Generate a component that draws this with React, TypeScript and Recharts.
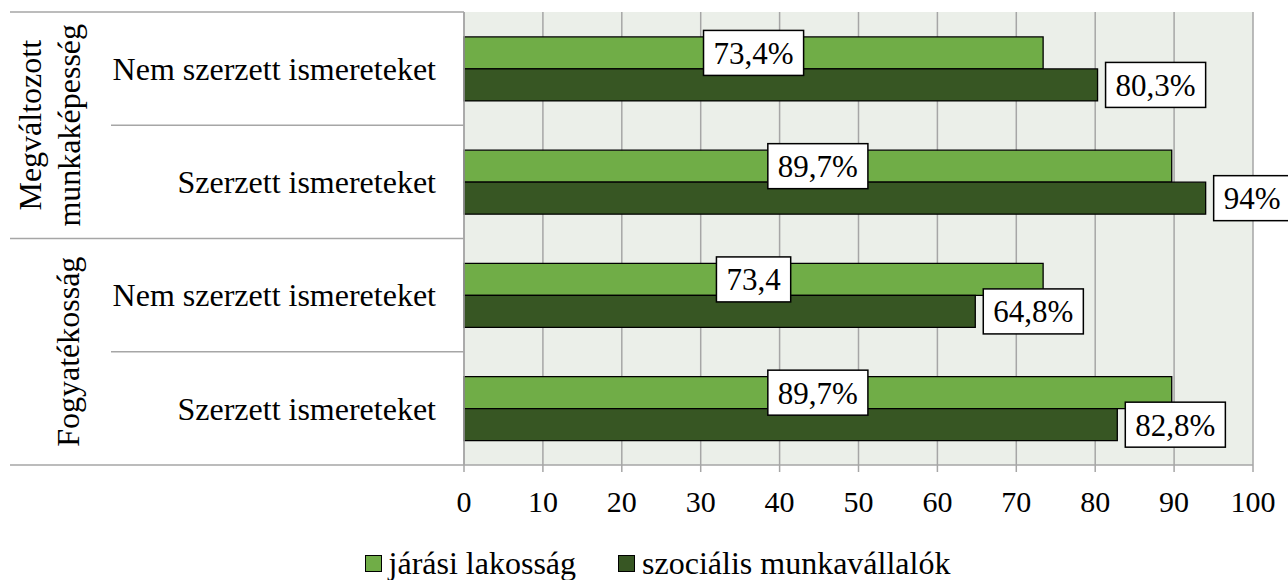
import { Bar, BarChart, CartesianGrid, LabelList, Legend, XAxis, YAxis } from "recharts";

const CATEGORIES = [
  "Nem szerzett ismereteket",
  "Szerzett ismereteket",
  "Nem szerzett ismereteket",
  "Szerzett ismereteket",
];
const GROUPS = [["Megváltozott", "munkaképesség"], ["Fogyatékosság"]];
const JARASI = [73.4, 89.7, 73.4, 89.7];
const SZOCIALIS = [80.3, 94, 64.8, 82.8];
const JARASI_LABELS = ["73,4%", "89,7%", "73,4", "89,7%"];
const SZOCIALIS_LABELS = ["80,3%", "94%", "64,8%", "82,8%"];
const X_TICKS = [0, 10, 20, 30, 40, 50, 60, 70, 80, 90, 100];

const LIGHT = "#70AD47";
const DARK = "#375623";
const GRID = "#A6A6A6";
const FONT = "Liberation Serif, Times New Roman, serif";

const PLOT_TOP = 12;
const PLOT_BOTTOM = 465;
const BAND = (PLOT_BOTTOM - PLOT_TOP) / CATEGORIES.length;

const data = CATEGORIES.map((name, i) => ({
  id: String(i),
  name,
  jarasi: JARASI[i],
  szocialis: SZOCIALIS[i],
}));

// rough Times widths, em
function textWidth(s: string, size: number) {
  let w = 0;
  for (const ch of s) {
    if (ch === ",") w += 0.25;
    else if (ch === "%") w += 0.833;
    else w += 0.5;
  }
  return w * size;
}

function LabelBox({ cx, cy, left, text }: { cx?: number; cy: number; left?: number; text: string }) {
  const fs = 31;
  const w = textWidth(text, fs) + 20;
  const h = 45;
  const x0 = left !== undefined ? left : (cx as number) - w / 2;
  return (
    <g>
      <rect x={x0} y={cy - h / 2} width={w} height={h} fill="#fff" stroke="#000" strokeWidth={1.5} />
      <text x={x0 + w / 2} y={cy} dy="0.35em" textAnchor="middle" fontSize={fs} style={{ fontFamily: FONT }} fill="#000">
        {text}
      </text>
    </g>
  );
}

// dark bar label, plus the light bar label drawn here so it sits above both bars
function DarkLabels(props: any) {
  const { x, y, width, height, value } = props;
  const i = Number(value);
  const lightWidth = (width * JARASI[i]) / SZOCIALIS[i];
  return (
    <g>
      <LabelBox cx={x + lightWidth / 2} cy={y - height / 2} text={JARASI_LABELS[i]} />
      <LabelBox left={x + width + 8} cy={y + height / 2} text={SZOCIALIS_LABELS[i]} />
    </g>
  );
}

function CategoryTick(props: any) {
  const { y, payload } = props;
  const i = Number(payload.value);
  const top = y - BAND / 2;
  const groupStart = i % 2 === 0;
  const g = GROUPS[Math.floor(i / 2)];
  const groupCy = y + BAND / 2;
  return (
    <g>
      <text x={436} y={y} dy="0.35em" textAnchor="end" fontSize={32} style={{ fontFamily: FONT }} fill="#000">
        {CATEGORIES[i]}
      </text>
      <line x1={groupStart ? 10 : 111} x2={464} y1={top} y2={top} stroke={GRID} strokeWidth={1.5} />
      {i === CATEGORIES.length - 1 && (
        <line x1={10} x2={464} y1={y + BAND / 2} y2={y + BAND / 2} stroke={GRID} strokeWidth={1.5} />
      )}
      {groupStart &&
        g.map((line, k) => {
          const cx = g.length === 1 ? 68 : k === 0 ? 30 : 69;
          return (
            <text
              key={k}
              x={cx}
              y={groupCy}
              dy="0.35em"
              textAnchor="middle"
              fontSize={32}
              style={{ fontFamily: FONT }}
              fill="#000"
              transform={`rotate(-90, ${cx}, ${groupCy})`}
            >
              {line}
            </text>
          );
        })}
    </g>
  );
}

function LegendContent() {
  const items = [
    { name: "járási lakosság", color: LIGHT },
    { name: "szociális munkavállalók", color: DARK },
  ];
  return (
    <div
      style={{
        height: 34,
        display: "flex",
        justifyContent: "center",
        alignItems: "center",
        gap: 42,
        fontFamily: FONT,
        fontSize: 32,
        color: "#000",
        paddingLeft: 62,
      }}
    >
      {items.map((it) => (
        <span key={it.name} style={{ display: "flex", alignItems: "center" }}>
          <span
            style={{
              width: 15,
              height: 15,
              background: it.color,
              border: "1px solid #000",
              marginRight: 7,
              display: "inline-block",
            }}
          />
          {it.name}
        </span>
      ))}
    </div>
  );
}

export default function App() {
  return (
    <div style={{ position: "absolute", left: 0, top: 0, background: "#fff" }}>
      <BarChart
        width={1288}
        height={580}
        data={data}
        layout="vertical"
        margin={{ top: PLOT_TOP, right: 35, bottom: 0, left: 0 }}
        barCategoryGap="22%"
        barGap={0}
      >
        <CartesianGrid horizontal={false} stroke={GRID} strokeWidth={1.5} fill="#EBEFE9" />
        <XAxis
          type="number"
          domain={[0, 100]}
          ticks={X_TICKS}
          interval={0}
          height={81}
          axisLine={{ stroke: GRID, strokeWidth: 1.5 }}
          tickLine={{ stroke: GRID, strokeWidth: 1.5 }}
          tickSize={7}
          tickMargin={19}
          tick={{ fontSize: 30, fill: "#000", style: { fontFamily: FONT } }}
        />
        <YAxis
          type="category"
          dataKey="id"
          width={464}
          interval={0}
          axisLine={{ stroke: GRID, strokeWidth: 1.5 }}
          tickLine={false}
          tick={<CategoryTick />}
        />
        <Legend verticalAlign="bottom" content={<LegendContent />} />
        <Bar dataKey="jarasi" fill={LIGHT} stroke="#000" strokeWidth={1.3} isAnimationActive={false} />
        <Bar dataKey="szocialis" fill={DARK} stroke="#000" strokeWidth={1.3} isAnimationActive={false}>
          <LabelList dataKey="id" content={<DarkLabels />} />
        </Bar>
      </BarChart>
    </div>
  );
}
